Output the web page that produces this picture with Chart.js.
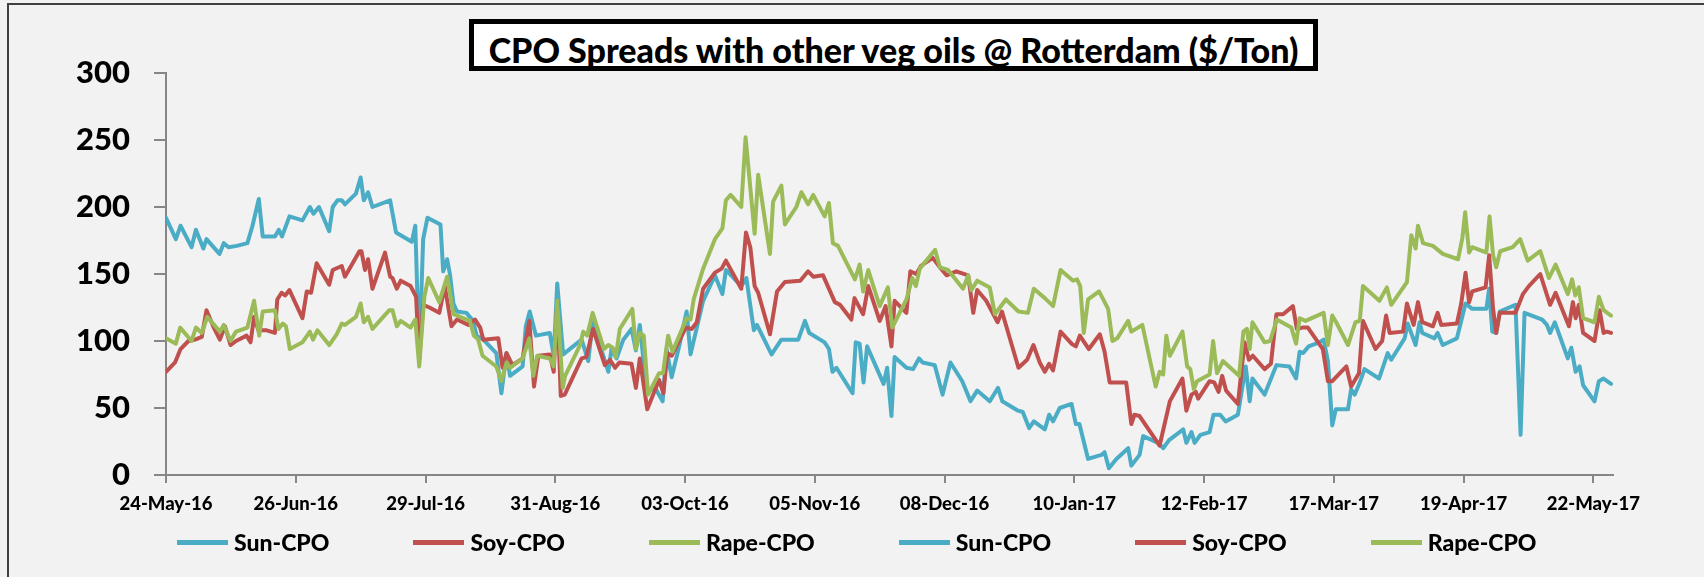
<!DOCTYPE html>
<html>
<head>
<meta charset="utf-8">
<title>CPO Spreads with other veg oils @ Rotterdam</title>
<script src="https://cdn.jsdelivr.net/npm/chart.js@4.4.1/dist/chart.umd.min.js"></script>
<style>
  html, body { margin: 0; padding: 0; background: #f2f2f2; }
  #wrap { position: relative; width: 1704px; height: 577px; overflow: hidden; background: #f2f2f2; font-family: Lato, "Open Sans", sans-serif; }
  #frame { position: absolute; left: 7px; top: 3px; width: 1800px; height: 700px; border-left: 2px solid #404040; border-top: 2px solid #404040; }
  #cv { position: absolute; left: 0; top: 0; }
  #title { position: absolute; left: 469px; top: 19px; width: 849px; height: 52px; box-sizing: border-box; border: 5px solid #000; background: #fff;
           display: flex; align-items: center; justify-content: center; padding-top: 9px; font-weight: 900; font-size: 34px; line-height: 1; color: #000; white-space: nowrap; }
  #legend { position: absolute; left: 177px; top: 531px; display: flex; align-items: center; }
  .lg-item { display: flex; align-items: center; margin-right: 84px; }
  .lg-swatch { width: 51px; height: 5px; margin-right: 6px; }
  .lg-text { font-weight: 900; font-size: 23px; line-height: 1; color: #000; }
</style>
</head>
<body>
<div id="wrap">
  <div id="frame"></div>
  <canvas id="cv" width="1704" height="577"></canvas>
  <div id="title">CPO Spreads with other veg oils @ Rotterdam ($/Ton)</div>
  <div id="legend"></div>
</div>
<script>
// days counted from 24-May-16
const tickDays = [0, 33, 66, 99, 132, 165, 198, 231, 264, 297, 330, 363];
const tickLabels = ['24-May-16', '26-Jun-16', '29-Jul-16', '31-Aug-16', '03-Oct-16', '05-Nov-16',
  '08-Dec-16', '10-Jan-17', '12-Feb-17', '17-Mar-17', '19-Apr-17', '22-May-17'];

const sunDays = [0,2.5,3.7,6.5,7.6,9.5,10.3,13.6,14.7,15.9,18,20.7,22,23.6,24.6,27.7,28.7,29.5,31.4,34.7,36.6,37.5,38.9,41.5,42.4,43.6,44.7,45.5,48.3,49.5,50.3,51.4,52.5,57,58.5,62.5,63.4,64.4,65.4,66.5,69.8,70.5,71.5,72.2,73.1,74,76.4,78.1,79,80.7,84,85.3,86.6,87.5,90.7,91.5,92.5,94.1,97.6,98.6,99.5,101,105.7,107.4,108.5,112.5,113.3,114.6,116.3,118.4,119.5,120.5,122.2,124.6,126.3,127.3,128.6,130.5,132.4,133.4,136.6,139.6,141.5,142.4,146.3,147.6,149.5,150.3,154,156.5,160.8,162.5,163.6,167.5,168.6,169.5,170.5,174.6,175.4,176.4,177.4,178.3,182.5,183.4,184.5,185.3,188.3,190,191.5,192.4,195.5,197.5,199.5,202.5,204.6,206.3,209.5,211.6,212.7,216.7,217.9,219.5,220.7,223.5,224.6,225.6,227.3,230.3,231.4,232.3,234.5,237.9,238.7,239.8,241.7,244.7,245.5,247.6,248.5,252.3,253.6,255.1,258.7,259.5,260.8,261.6,263.1,265.4,266.4,268.1,269.5,272.6,274.6,275.6,276.3,279.4,282.4,285.7,287.4,288.3,289.2,290.6,293.3,294.4,295.5,296.6,297.5,300.6,301.4,302.3,303.6,304.8,308.5,310.7,311.6,315,315.8,317.8,318.8,319.5,322.6,323.4,324.7,328.3,330.5,332.2,335.8,336.5,337.3,338.3,339.2,343.2,344.5,345.5,350,351.2,352,353.2,356.5,357.4,358.5,359.5,360.4,363.3,364.4,365.6,367.5];
const sunVals = [192,176,186,170,183,169,176,165,173,170,171,173,186,206,178,178,183,178,193,190,200,195,200,182,200,205,205,202,210,222,205,211,200,205,181,174,186,88,176,192,187,152,161,150,128,122,121,115,104,101,91,61,91,74,81,111,122,104,106,89,143,90,101,85,114,77,94,87,101,109,93,112,64,64,55,94,73,96,122,90,130,149,135,153,141,147,108,112,90,101,101,115,106,99,94,77,80,61,99,98,69,96,68,80,44,88,80,79,87,84,82,60,84,70,55,63,55,65,55,48,47,35,40,34,45,40,50,53,38,38,12,15,17,5,12,20,7,15,29,24,20,26,34,24,32,24,30,32,45,45,40,45,81,55,72,60,82,81,72,92,91,96,99,101,85,37,49,49,64,60,69,79,72,91,86,102,113,97,114,106,102,106,97,102,128,124,124,139,107,106,122,127,30,121,116,112,106,114,87,95,77,81,67,55,70,72,68];

const soyDays = [0,2.3,3.7,5.7,7.4,9.1,10.3,12,13.7,15,16.4,17.8,20.5,21.5,22.4,23.5,25.6,27.7,28.3,29.4,30.3,31.4,34.7,35.8,36.9,38.3,41.5,42.4,44.7,45.5,49.2,49.7,50.6,51.4,52.5,55.7,57,57.6,58.7,59.7,62.2,63.6,64.4,65.4,67,69.5,70.9,72.6,74,76.9,78.6,79.9,80.7,84.5,85.6,86.6,88.1,90.7,92.4,93.6,94.7,97.6,98.6,99.5,100.4,101.4,105.7,106.9,108.6,111.6,112.9,114.2,115.3,118.4,119.5,120.5,122.4,125.4,126.5,127.5,128.6,132.2,133.7,135,136.6,139.6,141.3,142.4,146.3,147.5,148.6,149.7,150.6,153.6,155.4,157.4,161.3,163.3,164.6,167.1,170.1,171.4,174.3,175.1,177.3,178.6,181.5,183,184.5,185.3,188.3,189.3,190.8,192,195,196.8,198.5,201,204,205.3,206.3,208.6,211.5,212.6,216.8,219,220.6,222.2,223.5,224.6,225.6,227.5,230.3,231.4,232.4,234.7,237.5,238.7,240,244.2,245.5,246.3,247.6,252.7,255.3,258.5,259.5,260.8,261.9,262.5,265.4,266.6,267.7,268.6,269.6,272.6,274.3,275.4,276.4,279.4,281,282.4,284.1,286.6,287.6,289,290.4,294.2,295.5,296.6,300.2,301.4,303.4,304.4,307.6,309.3,310.3,311.2,314.6,315.6,317.3,318.4,319.5,322.2,323.4,324.3,328.3,329.4,330.5,331.4,332.2,335.6,336.5,337.5,338.3,339.2,343.2,345.1,346.6,349.5,352,353.4,356.8,357.8,358.5,359.3,360.4,363.3,364.6,365.6,366.4,367.5];
const soyVals = [77,84,94,100,101,103,123,111,101,111,97,100,104,99,118,108,108,106,131,136,134,138,117,137,136,158,142,153,156,148,167,167,153,161,139,166,148,147,139,145,141,133,86,127,125,121,141,111,116,112,116,110,101,102,80,91,82,87,115,66,89,90,77,130,59,60,87,88,109,82,86,80,84,83,65,87,49,71,61,91,89,110,109,114,139,151,154,160,139,181,170,141,136,105,137,144,145,152,148,149,129,127,116,132,120,141,115,126,96,130,121,152,150,156,162,155,149,152,149,121,138,130,114,122,80,86,97,84,77,83,78,107,98,96,104,94,105,92,69,69,38,45,44,22,55,72,48,60,62,57,70,69,62,74,63,53,99,86,89,79,83,120,120,126,109,110,110,94,70,70,81,66,76,115,94,100,119,106,107,128,112,129,114,111,121,112,113,128,151,129,137,140,164,124,106,121,121,135,141,150,127,136,111,129,117,127,106,100,123,106,107,106];

const rapeDays = [0,2.5,3.6,6.5,7.6,9.1,10.5,13.7,14.7,16.4,17.8,20.7,22.4,23.7,24.6,27.7,28.6,29.7,30.5,31.5,34.7,36.6,37.4,38.5,41.5,43.4,44.7,45.5,48.3,49.5,50.3,51.4,52.5,56.8,57.6,58.7,59.7,62.2,63.4,64.4,65.7,66.7,69.5,71.5,73.1,77.3,78.3,79.4,80.5,84,85.3,86.6,87.5,90.7,92.4,93.4,94.4,97.6,98.6,99.5,100.9,101.5,105.3,106.1,107.1,108.5,111.4,112.5,113.6,114.4,115.4,118.6,119.5,120.5,121.5,122.6,125.4,126.4,127.7,128.8,132.4,133.4,134.2,136.6,139.6,141.5,142.4,143.6,146.3,147.4,149.7,150.6,153.6,154.4,156.5,157.4,160.3,161.6,163.3,164.6,167.5,168.6,169.6,170.9,175.2,176.4,177.3,178.6,181.5,183.6,184.7,188.3,189.8,190.7,191.7,195.6,196.8,198.9,202.7,204,204.8,206.3,209.5,210.8,213.6,216.8,219.2,220.7,223.5,225.6,227.5,230.7,231.7,232.5,233.4,234.5,237.3,239.6,240.7,241.9,244.7,245.5,248.3,251.7,252.7,253.6,254.4,255.3,258.5,259.7,260.5,261.4,262.2,265.4,266.3,267.3,268.8,272.9,274,274.9,275.6,276.3,279.4,280.8,282.5,286.2,287.4,288.3,289.8,294.4,295.5,296.6,297.6,300.6,302.5,303.6,304.4,308.6,310.5,311.6,315.6,316.7,317.8,318.4,319.7,322.2,324.7,328.6,329.7,330.4,331.4,332.2,335.8,336.6,337.5,338.3,339.3,342.5,344.4,346.3,349.5,351.7,353.4,356.5,357.6,358.4,359.3,360.4,363.3,364.4,365.6,367.5];
const rapeVals = [102,98,110,100,110,106,118,107,112,100,107,110,130,104,122,123,109,113,111,94,99,107,101,108,97,105,113,112,118,128,114,118,109,123,123,111,115,110,116,81,133,147,129,148,120,115,104,101,89,81,70,84,80,87,102,74,89,87,81,130,65,74,97,107,104,121,94,97,95,88,109,124,94,106,104,60,76,76,104,92,117,116,131,154,176,184,205,209,200,252,180,224,165,204,216,187,200,211,202,209,193,203,173,171,146,157,137,153,126,140,110,131,147,141,154,168,155,153,139,149,138,145,140,120,131,122,121,139,132,126,153,145,146,141,106,131,137,124,100,102,115,107,112,66,77,75,104,89,107,81,79,64,70,75,100,76,85,74,107,109,94,114,99,100,116,110,98,117,115,121,97,119,114,97,114,115,141,130,140,127,144,179,169,186,173,171,165,161,177,196,166,170,166,193,164,155,167,170,176,160,167,147,157,135,146,134,140,117,114,133,123,119];

const seriesNames = ['Sun-CPO', 'Soy-CPO', 'Rape-CPO', 'Sun-CPO', 'Soy-CPO', 'Rape-CPO'];
const seriesColors = ['#4bacc6', '#c0504d', '#9bbb59', '#4bacc6', '#c0504d', '#9bbb59'];

function points(days, vals) {
  return days.map((d, i) => ({x: d, y: vals[i]}));
}
const seriesData = [points(sunDays, sunVals), points(soyDays, soyVals), points(rapeDays, rapeVals), [], [], []];

const datasets = seriesNames.map((name, i) => ({
  label: name,
  data: seriesData[i],
  borderColor: seriesColors[i],
  backgroundColor: seriesColors[i],
  borderWidth: 4,
  pointRadius: 0,
  tension: 0,
  borderJoinStyle: 'round',
  borderCapStyle: 'round',
  order: 6 - i
}));

Chart.defaults.font.family = 'Lato, "Open Sans", sans-serif';
Chart.defaults.color = '#000';

const chart = new Chart(document.getElementById('cv'), {
  type: 'line',
  data: {datasets},
  options: {
    responsive: false,
    animation: false,
    layout: {padding: {top: 73, right: 91, left: 0, bottom: 0}},
    plugins: {legend: {display: false}, tooltip: {enabled: false}},
    scales: {
      x: {
        type: 'linear', min: 0, max: 368,
        afterBuildTicks: s => { s.ticks = tickDays.map(v => ({value: v})); },
        afterFit: s => { s.height = 102; },
        ticks: {autoSkip: false, maxRotation: 0, padding: 10, font: {size: 18.5, weight: '900'},
                callback: (v, i) => tickLabels[i]},
        grid: {drawOnChartArea: false, tickLength: 8, color: '#868686', lineWidth: 2},
        border: {color: '#868686', width: 2}
      },
      y: {
        min: 0, max: 300,
        afterFit: s => { s.width = 166; },
        ticks: {stepSize: 50, padding: 24, font: {size: 31, weight: '900'}},
        grid: {drawOnChartArea: false, tickLength: 12, color: '#868686', lineWidth: 2},
        border: {color: '#868686', width: 2}
      }
    }
  }
});

// html legend built from the chart's datasets
const legend = document.getElementById('legend');
legend.innerHTML = chart.data.datasets.map(ds =>
  `<div class="lg-item"><span class="lg-swatch" style="background:${ds.borderColor}"></span><span class="lg-text">${ds.label}</span></div>`
).join('');
</script>
</body>
</html>
